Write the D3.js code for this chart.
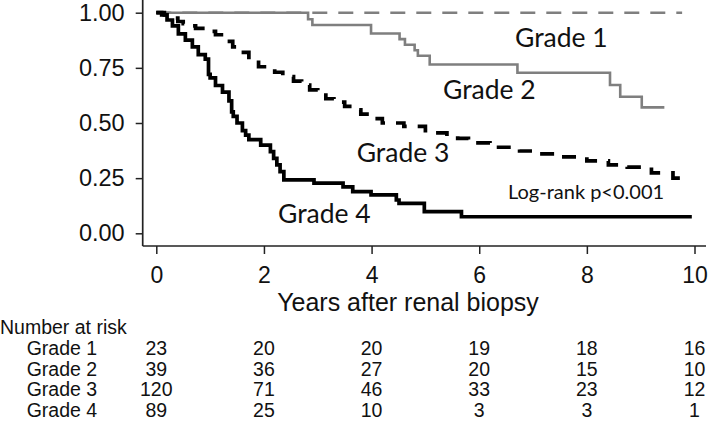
<!DOCTYPE html>
<html>
<head>
<meta charset="utf-8">
<script src="https://cdn.jsdelivr.net/npm/d3@7"></script>
<style>
  body { margin: 0; background: #fff; }
  svg { display: block; }
</style>
</head>
<body>
<script>
var width = 713,
	height = 422;

// Kaplan-Meier steps: time (years) and survival after each step
var g1Time = [0, 9.77],
	g1Surv = [1, 1];

var g2Time = [0, 2.82, 2.9, 3.99, 4.52, 4.62, 4.8, 4.86, 5.08, 6.71, 8.43, 8.62, 9.02, 9.44],
	g2Surv = [1, 0.97, 0.944, 0.906, 0.88, 0.855, 0.83, 0.805, 0.765, 0.728, 0.672, 0.619, 0.571, 0.571];

var g3Time = [0, 0.15, 0.3, 0.4, 0.5, 0.6, 0.73, 0.95, 1.1, 1.3, 1.42, 1.55, 1.72, 1.9, 2.2, 2.35, 2.55, 2.7,
		2.85, 3.0, 3.15, 3.3, 3.5, 3.65, 3.8, 3.95, 4.2, 4.6, 5.0, 5.15, 5.4, 5.6, 5.8, 6.2, 6.75, 7.1, 7.5,
		8.0, 8.4, 8.75, 9.2, 9.6, 9.9],
	g3Surv = [1, 0.99, 0.975, 0.96, 0.95, 0.94, 0.929, 0.915, 0.9, 0.87, 0.845, 0.82, 0.786, 0.755, 0.73, 0.71,
		0.69, 0.672, 0.65, 0.627, 0.61, 0.595, 0.575, 0.56, 0.54, 0.52, 0.5, 0.485, 0.465, 0.455, 0.44, 0.43,
		0.41, 0.39, 0.373, 0.36, 0.346, 0.328, 0.31, 0.3, 0.274, 0.25, 0.245];

var g4Time = [0, 0.1, 0.2, 0.3, 0.41, 0.54, 0.67, 0.78, 0.91, 0.97, 1.0, 1.1, 1.23, 1.35, 1.4, 1.43, 1.5, 1.6,
		1.66, 1.72, 1.94, 2.12, 2.18, 2.24, 2.3, 2.37, 2.93, 3.47, 3.65, 3.99, 4.46, 4.51, 4.98, 5.67, 9.95],
	g4Surv = [1, 0.99, 0.967, 0.94, 0.904, 0.876, 0.845, 0.81, 0.79, 0.72, 0.705, 0.67, 0.64, 0.6, 0.55, 0.53,
		0.5, 0.465, 0.445, 0.425, 0.4, 0.37, 0.34, 0.31, 0.28, 0.242, 0.227, 0.21, 0.189, 0.174, 0.151, 0.136,
		0.098, 0.075, 0.075];

var xTicks = [0, 2, 4, 6, 8, 10],
	yTicks = [0, 0.25, 0.5, 0.75, 1];

var riskTimes = [0, 2, 4, 6, 8, 10],
	riskLabels = ["Grade 1", "Grade 2", "Grade 3", "Grade 4"],
	risk1 = [23, 20, 20, 19, 18, 16],
	risk2 = [39, 36, 27, 20, 15, 10],
	risk3 = [120, 71, 46, 33, 23, 12],
	risk4 = [89, 25, 10, 3, 3, 1];

var gray = "#7f7f7f",
	arial = "'Liberation Sans', Arial, sans-serif",
	calib = "Lato, 'Open Sans', sans-serif";

var svg = d3.select("body")
		.append("svg")
		.attr("width", width)
		.attr("height", height);

var x = d3.scaleLinear().domain([0, 10]).range([156.3, 694.5]),
	y = d3.scaleLinear().domain([0, 1]).range([233.3, 12.7]);

// axes (Stata style: axis lines set off from the data region)
var xAxis = svg.append("g")
	.attr("transform", "translate(0,246)")
	.call(d3.axisBottom(x).tickValues(xTicks).tickSize(8).tickPadding(13).tickFormat(d3.format("d")));
xAxis.select(".domain").remove();
xAxis.append("line")
	.attr("x1", 142.7).attr("x2", 706)
	.attr("stroke", "#222").attr("stroke-width", 1.7);

var yAxis = svg.append("g")
	.attr("transform", "translate(142.7,0)")
	.call(d3.axisLeft(y).tickValues(yTicks).tickSize(7).tickPadding(11).tickFormat(d3.format(".2f")));
yAxis.select(".domain").remove();
yAxis.append("line")
	.attr("y1", 0).attr("y2", 246)
	.attr("stroke", "#222").attr("stroke-width", 1.7);

svg.selectAll(".tick line").attr("stroke", "#222").attr("stroke-width", 1.5);
yAxis.selectAll(".tick text")
	.attr("fill", "#111")
	.style("font-family", arial)
	.style("font-size", "23.5px");
xAxis.selectAll(".tick text")
	.attr("fill", "#111")
	.style("font-family", arial)
	.style("font-size", "23px");

svg.append("text")
	.attr("x", 408).attr("y", 311)
	.attr("text-anchor", "middle")
	.style("font-family", arial).style("font-size", "25px").attr("fill", "#111")
	.text("Years after renal biopsy");

// survival curves
var line = d3.line()
	.x(function(d) { return x(d[0]); })
	.y(function(d) { return y(d[1]); })
	.curve(d3.curveStepAfter);

var curves = [
	{t: g1Time, s: g1Surv, color: gray, w: 2.6, dash: "15,11"},
	{t: g2Time, s: g2Surv, color: gray, w: 2.6, dash: null},
	{t: g3Time, s: g3Surv, color: "#000", w: 3.7, dash: "14,11"},
	{t: g4Time, s: g4Surv, color: "#000", w: 3.7, dash: null}
];

curves.forEach(function(c) {
	var pts = c.t.map(function(t, i) { return [t, c.s[i]]; });
	svg.append("path")
		.attr("d", line(pts))
		.attr("fill", "none")
		.attr("stroke", c.color)
		.attr("stroke-width", c.w)
		.attr("stroke-dasharray", c.dash);
});

// curve labels
var labels = [
	["Grade 1", 515, 46.7, 26.5],
	["Grade 2", 443, 99.3, 26.5],
	["Grade 3", 356.7, 161.7, 26.5],
	["Grade 4", 278, 223.3, 26.5],
	["Log-rank p<0.001", 508, 199.3, 20]
];
labels.forEach(function(l) {
	svg.append("text")
		.attr("x", l[1]).attr("y", l[2])
		.style("font-family", calib).style("font-size", l[3] + "px")
		.attr("fill", "#111")
		.text(l[0]);
});

// number at risk table
svg.append("text")
	.attr("x", 0).attr("y", 334)
	.style("font-family", arial).style("font-size", "19.5px").attr("fill", "#111")
	.text("Number at risk");

var rows = [risk1, risk2, risk3, risk4];
rows.forEach(function(r, i) {
	var yy = 355 + i * 20.5;
	svg.append("text")
		.attr("x", 26.7).attr("y", yy)
		.style("font-family", arial).style("font-size", "19.5px").attr("fill", "#111")
		.text(riskLabels[i]);
	svg.selectAll(null)
		.data(r)
		.enter()
		.append("text")
		.attr("x", function(d, k) { return x(riskTimes[k]); })
		.attr("y", yy)
		.attr("text-anchor", "middle")
		.style("font-family", arial).style("font-size", "19.5px").attr("fill", "#111")
		.text(function(d) { return d; });
});
</script>
</body>
</html>
